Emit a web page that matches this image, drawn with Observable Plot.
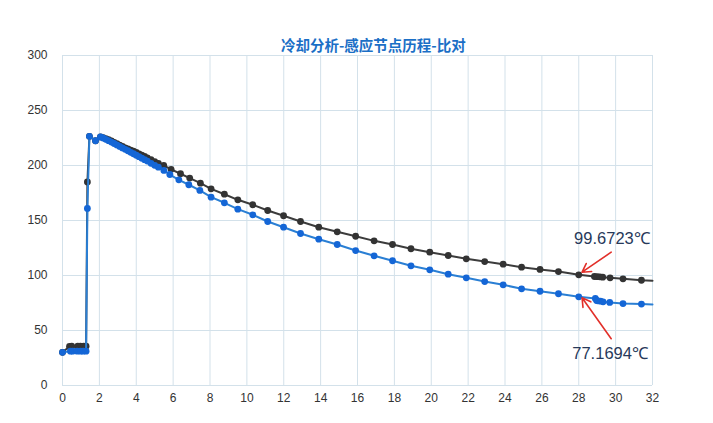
<!DOCTYPE html>
<html><head><meta charset="utf-8">
<script src="https://cdn.jsdelivr.net/npm/d3@7"></script>
<script src="https://cdn.jsdelivr.net/npm/@observablehq/plot@0.6"></script>
<style>
body{margin:0;background:#fff;}
#wrap{position:relative;width:713px;height:423px;}
#title{position:absolute;top:35px;left:281px;white-space:nowrap;font-family:"Noto Sans CJK SC",sans-serif;font-weight:bold;font-size:14.5px;line-height:20px;color:#1b6fc6;}
#chart{position:absolute;top:0;left:0;}
</style></head>
<body><div id="wrap"><div id="chart"></div><div id="title">冷却分析-感应节点历程-比对</div></div>
<script>
const xTicks = [0,2,4,6,8,10,12,14,16,18,20,22,24,26,28,30,32];
const yTicks = [0,50,100,150,200,250,300];

const blackT = [0,0.38,0.5,0.83,0.97,1.15,1.28,1.35,1.46,1.79,
  2.06,2.2,2.35,2.5,2.65,2.8,2.95,3.1,3.25,3.4,
  3.55,3.7,3.85,4.0,4.15,4.3,4.45,4.6,4.8,5.0,
  5.2,5.49,5.89,6.4,6.9,7.48,8.06,8.78,9.51,10.32,
  11.13,11.99,12.91,13.9,14.9,15.9,16.9,17.9,18.9,19.92,
  20.92,21.9,22.9,23.9,24.9,25.9,26.9,28.0,28.85,29.0,
  29.15,29.3,29.7,30.4,31.4,32];
const blackV = [30.2,35.5,35.7,35.7,35.7,35.7,35.7,185,226.5,222.5,
  226,225.4,224.5,223.5,222.3,221,219.8,218.5,217.3,216,
  215,214,213,211.8,210.6,209.5,208.3,207,205.3,203.6,
  202,200,196.5,192.5,188.6,183.9,178.8,173.9,168.8,164.3,
  159.1,154.3,149.1,143.9,139.7,135.7,131.5,128.2,124.3,121.2,
  118.2,115.2,112.7,110.3,107.6,105.5,103.6,100.6,99.1,98.9,
  98.8,98.5,97.9,97,95.7,95.2];

const blueT = [0,0.43,0.55,0.8,0.98,1.12,1.28,1.35,1.46,1.79,
  2.06,2.2,2.35,2.5,2.65,2.8,2.95,3.1,3.25,3.4,
  3.55,3.7,3.85,4.0,4.15,4.3,4.45,4.6,4.8,5.0,
  5.2,5.5,5.82,6.31,6.85,7.45,8.06,8.78,9.51,10.32,
  11.13,11.99,12.91,13.9,14.9,15.9,16.9,17.9,18.9,19.92,
  20.92,21.9,22.9,23.9,24.9,25.9,26.9,28.0,28.9,28.97,
  29.03,29.18,29.32,29.68,30.4,31.4,32];
const blueV = [30.2,31.2,31.2,31.2,31.2,31.2,31.2,161,226.5,222.5,
  226,225,223.8,222.6,221.3,220,218.7,217.3,216,214.7,
  213.4,212,210.7,209.3,208,206.7,205.3,204,202,200.2,
  198.5,195.5,191.8,187,182.5,177.3,171.2,166.1,160.3,155.2,
  149.1,143.9,138.2,133,128.2,122.7,117.9,113.4,108.8,105.2,
  101.2,97.9,94.5,91.5,87.9,85.7,83.4,80.6,79.2,77.3,
  77,76.7,76.1,75.5,74.5,74,73.6];

const annLabels = ["99.6723℃","77.1694℃"];
const annTextX = [29.8,29.7];
const annTextY = [133.6,29];
const arrowTailX = [29.76,29.76];
const arrowTailY = [121.2,42.5];
const arrowTipX = [28.18,28.18];
const arrowTipY = [103,79.7];

const black = blackT.map((t,i)=>({t, v:blackV[i]}));
const blue = blueT.map((t,i)=>({t, v:blueV[i]}));
const ann = annLabels.map((label,i)=>({label, tx:annTextX[i], ty:annTextY[i], x1:arrowTailX[i], y1:arrowTailY[i], x2:arrowTipX[i], y2:arrowTipY[i]}));

const chart = Plot.plot({
  width: 713, height: 423,
  marginLeft: 62, marginRight: 61, marginTop: 55, marginBottom: 38,
  style: {fontFamily: "'Liberation Sans', Arial, sans-serif", background: "#fff"},
  x: {domain: [0,32]},
  y: {domain: [0,300]},
  marks: [
    Plot.gridX(xTicks, {stroke: "#d3e1ea", strokeOpacity: 1, strokeWidth: 1}),
    Plot.gridY(yTicks, {stroke: "#d3e1ea", strokeOpacity: 1, strokeWidth: 1}),
    Plot.axisX(xTicks, {tickSize: 0, tickPadding: 8, fontSize: 12, fill: "#333", label: null}),
    Plot.axisY(yTicks, {tickSize: 0, tickPadding: 15, fontSize: 12, fill: "#333", label: null}),
    Plot.line(black, {x: "t", y: "v", stroke: "#3c3c3c", strokeWidth: 2}),
    Plot.dot(black.filter(d => d.t < 32), {x: "t", y: "v", r: 3.4, fill: "#333", stroke: "none"}),
    Plot.line(blue, {x: "t", y: "v", stroke: "#2a7fd4", strokeWidth: 2}),
    Plot.dot(blue.filter(d => d.t < 32), {x: "t", y: "v", r: 3.4, fill: "#1466d6", stroke: "none"}),
    Plot.arrow(ann, {x1: "x1", y1: "y1", x2: "x2", y2: "y2", stroke: "#e2302a", strokeWidth: 1.6, headLength: 9}),
    Plot.text(ann, {x: "tx", y: "ty", text: "label", fontSize: 16.5, fill: "#27395a"})
  ]
});
document.getElementById("chart").appendChild(chart);
</script>
</body></html>
